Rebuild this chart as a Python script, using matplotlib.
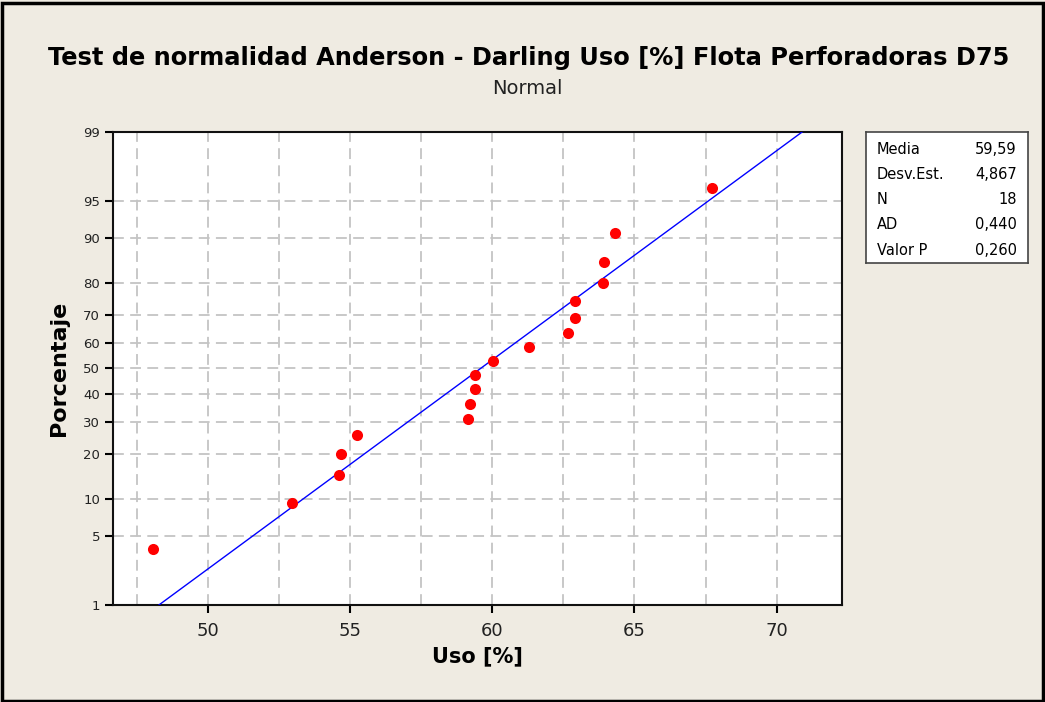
import matplotlib
matplotlib.use('Agg')
import matplotlib.pyplot as plt
from matplotlib.patches import Rectangle
from statistics import NormalDist

# data
uso = [48.07, 52.96, 54.62, 54.69, 55.25, 59.15, 59.20, 59.38, 59.39, 60.01,
       61.30, 62.66, 62.91, 62.91, 63.91, 63.93, 64.31, 67.73]
porcentaje = [3.8, 9.2, 14.7, 20.1, 25.5, 31.0, 36.4, 41.8, 47.3, 52.7,
              58.2, 63.6, 69.0, 74.5, 79.9, 85.3, 90.8, 96.2]
y_ticks = [1, 5, 10, 20, 30, 40, 50, 60, 70, 80, 90, 95, 99]
x_ticks = [50, 55, 60, 65, 70]

stat_names = ['Media', 'Desv.Est.', 'N', 'AD', 'Valor P']
stat_values = ['59,59', '4,867', '18', '0,440', '0,260']
media = 59.59
desv = 4.867

nd = NormalDist()
def z(p):
    return nd.inv_cdf(p / 100.0)

bg = '#EFEBE2'
fig = plt.figure(figsize=(10.45, 7.02), dpi=100, facecolor=bg)
fig.patches.append(Rectangle((0.0015, 0.002), 0.997, 0.994, transform=fig.transFigure,
                             fill=False, edgecolor='black', linewidth=2.5))

ax = fig.add_axes([0.1078, 0.1382, 0.6979, 0.6742])
ax.set_facecolor('white')

# fitted line between 1% and 99%
zl = [z(1), z(99)]
ax.plot([media + zz * desv for zz in zl], zl, color='#0000FF', linewidth=1.0, zorder=3)
ax.plot(uso, [z(p) for p in porcentaje], 'o', color='#FF0000', markersize=8,
        markeredgewidth=0, zorder=4)

ax.set_xlim(46.64, 72.30)
ax.set_ylim(z(1), z(99))
ax.set_xticks(x_ticks)
ax.set_xticks([47.5, 52.5, 57.5, 62.5, 67.5], minor=True)
ax.set_yticks([z(v) for v in y_ticks])
ax.set_yticklabels([str(v) for v in y_ticks])
ax.tick_params(axis='x', which='major', labelsize=13, length=6, width=1.5, colors='black',
               labelcolor='#222222', pad=6)
ax.tick_params(axis='x', which='minor', length=0)
ax.tick_params(axis='y', labelsize=9.5, length=6, width=1.5, labelcolor='#222222', pad=3)
ax.grid(True, which='both', color='#C4C4C4', linestyle=(0, (6, 3.5)), linewidth=1.3)
ax.set_axisbelow(True)
for s in ax.spines.values():
    s.set_linewidth(1.5)
    s.set_color('#111111')

ax.set_xlabel('Uso [%]', fontsize=15, fontweight='bold', labelpad=5)
ax.set_ylabel('Porcentaje', fontsize=16, fontweight='bold', labelpad=10)

fig.text(0.506, 0.918, 'Test de normalidad Anderson - Darling Uso [%] Flota Perforadoras D75',
         ha='center', va='center', fontsize=17.4, fontweight='bold')
fig.text(0.505, 0.874, 'Normal', ha='center', va='center', fontsize=14, color='#222222')

# stats box
bx = fig.add_axes([0.8287, 0.6254, 0.155, 0.1866])
bx.set_facecolor('white')
bx.set_xticks([])
bx.set_yticks([])
for s in bx.spines.values():
    s.set_linewidth(1.2)
    s.set_color('#444444')
for i, (n, v) in enumerate(zip(stat_names, stat_values)):
    yy = 0.87 - i * 0.193
    bx.text(0.065, yy, n, fontsize=10.5, va='center', ha='left', transform=bx.transAxes)
    bx.text(0.93, yy, v, fontsize=10.5, va='center', ha='right', transform=bx.transAxes)

fig.savefig('out.png', dpi=100, facecolor=bg)
